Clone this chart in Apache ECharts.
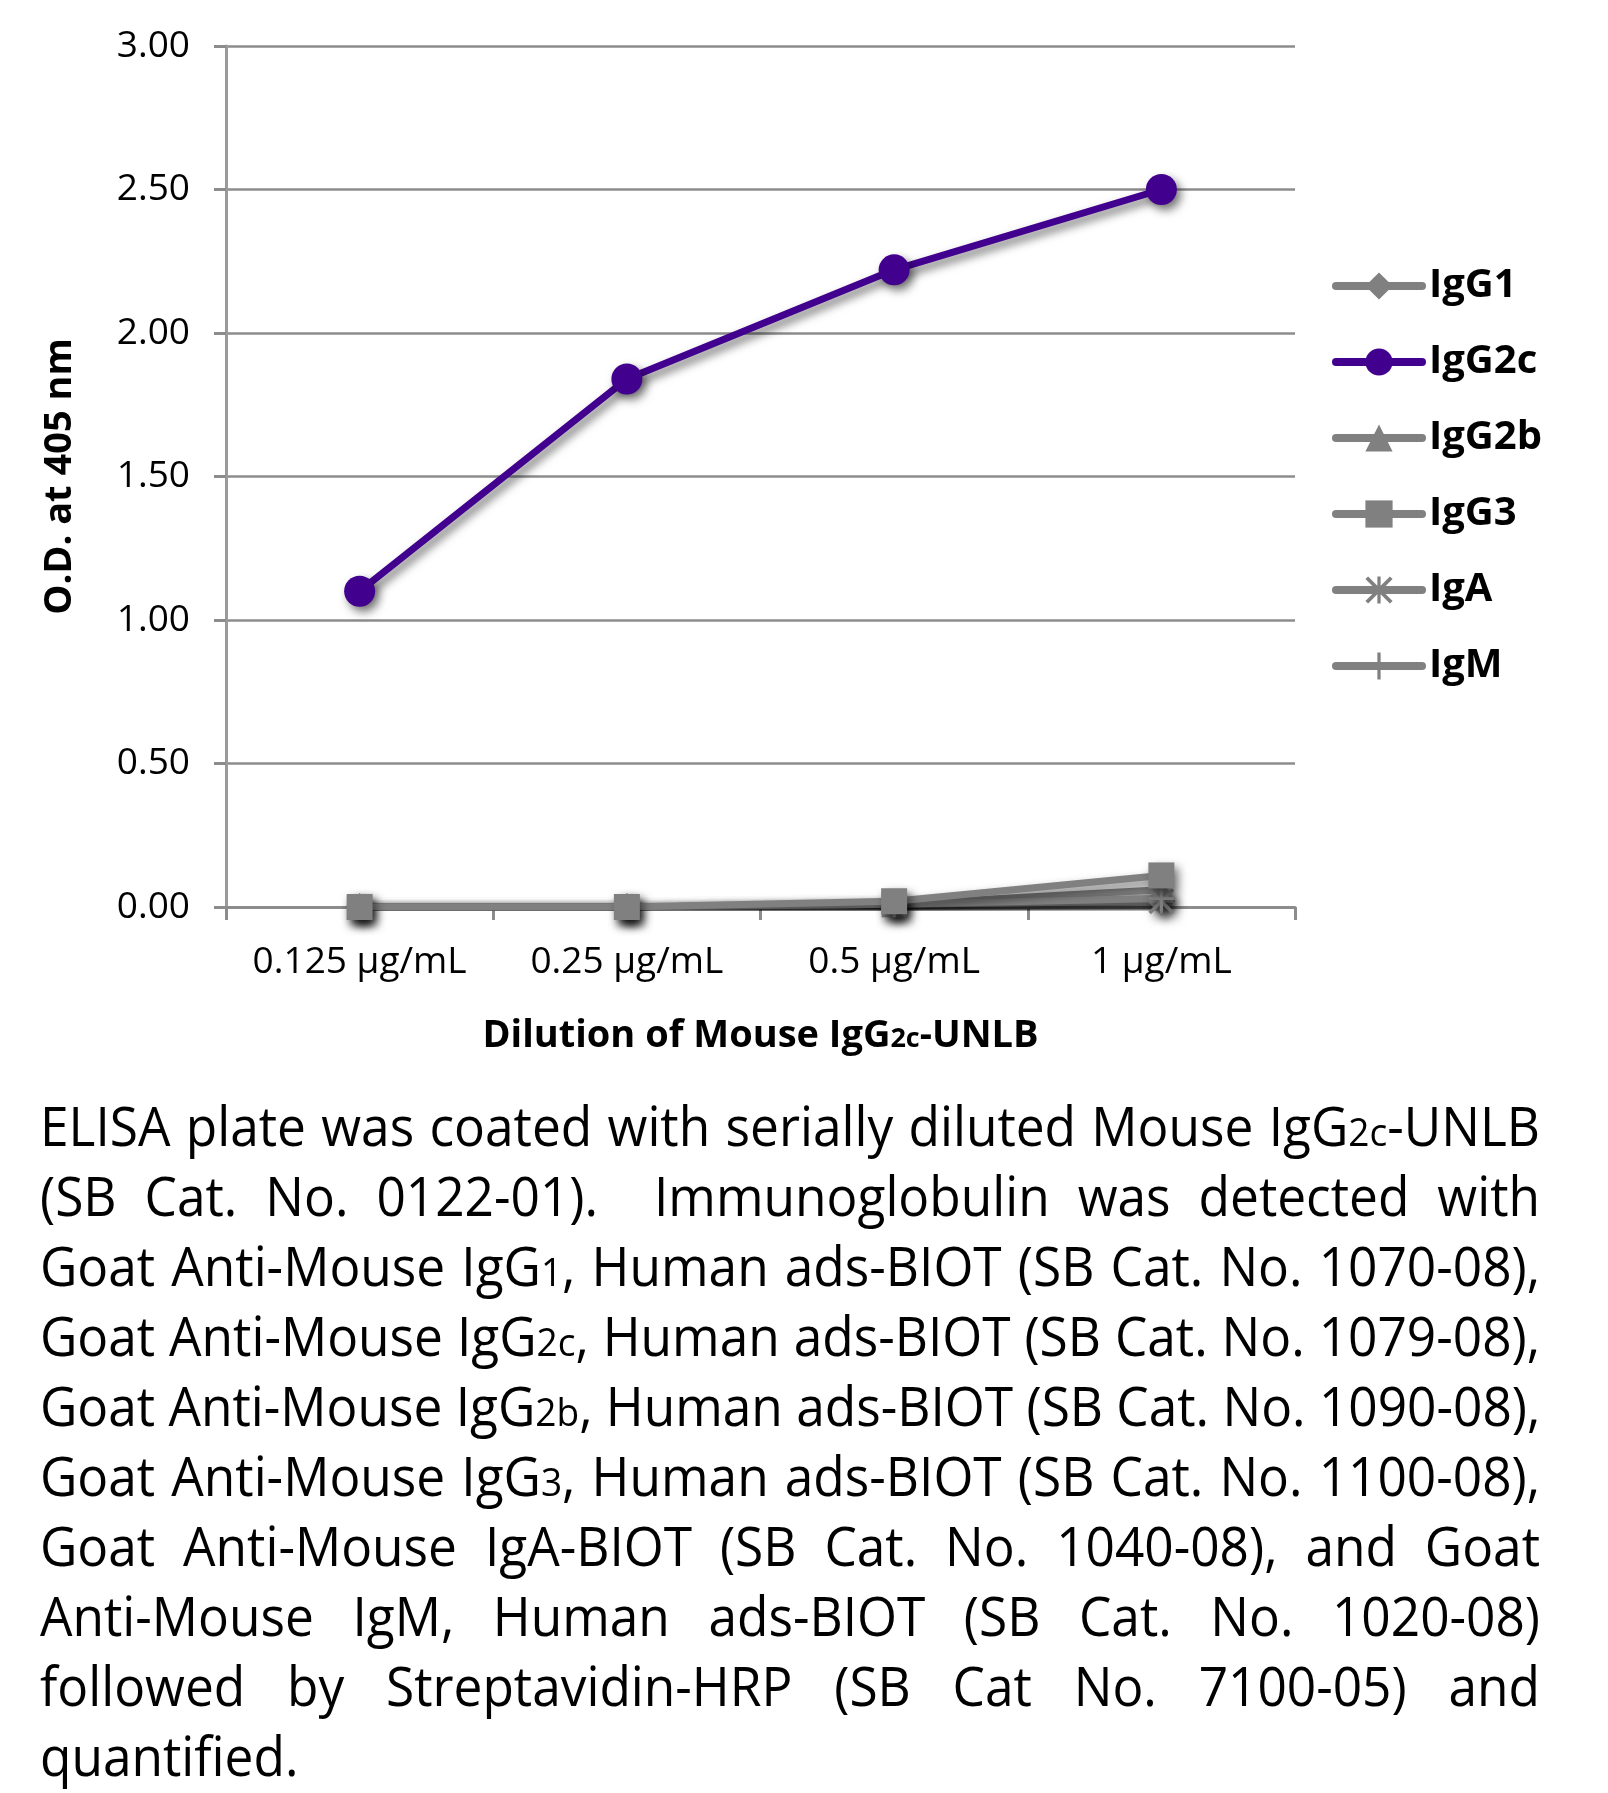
<!DOCTYPE html>
<html>
<head>
<meta charset="utf-8">
<script src="https://cdn.jsdelivr.net/npm/echarts@6/dist/echarts.min.js"></script>
<style>
html,body{margin:0;padding:0;background:#fff;width:1608px;height:1793px;overflow:hidden;}
#chart{position:absolute;left:0;top:0;width:1608px;height:1793px;}
#caption{position:absolute;left:40px;top:1090px;font-family:"Open Sans",sans-serif;font-size:54px;line-height:70px;color:#000;transform-origin:0 0;}
#caption .ln{white-space:nowrap;text-align:justify;text-align-last:justify;height:70px;line-height:70px;}
#caption .ln.last{text-align-last:left;}
#caption .s{font-size:0.72em;line-height:0;}
</style>
</head>
<body>
<div id="chart"></div>
<div id="caption">
<div class="ln">ELISA plate was coated with serially diluted Mouse IgG<span class="s">2c</span>-UNLB</div>
<div class="ln">(SB Cat. No. 0122-01).&nbsp; Immunoglobulin was detected with</div>
<div class="ln">Goat Anti-Mouse IgG<span class="s">1</span>, Human ads-BIOT (SB Cat. No. 1070-08),</div>
<div class="ln">Goat Anti-Mouse IgG<span class="s">2c</span>, Human ads-BIOT (SB Cat. No. 1079-08),</div>
<div class="ln">Goat Anti-Mouse IgG<span class="s">2b</span>, Human ads-BIOT (SB Cat. No. 1090-08),</div>
<div class="ln">Goat Anti-Mouse IgG<span class="s">3</span>, Human ads-BIOT (SB Cat. No. 1100-08),</div>
<div class="ln">Goat Anti-Mouse IgA-BIOT (SB Cat. No. 1040-08), and Goat</div>
<div class="ln">Anti-Mouse IgM, Human ads-BIOT (SB Cat. No. 1020-08)</div>
<div class="ln">followed by Streptavidin-HRP (SB Cat No. 7100-05) and</div>
<div class="ln last">quantified.</div>
</div>
<script>
// ---- data ----
var categories = ['0.125 µg/mL', '0.25 µg/mL', '0.5 µg/mL', '1 µg/mL'];
var yTicks = [0, 0.5, 1.0, 1.5, 2.0, 2.5, 3.0];
var IgG1  = [0.00, 0.00, 0.01, 0.02];
var IgG2c = [1.10, 1.84, 2.22, 2.50];
var IgG2b = [0.00, 0.00, 0.01, 0.06];
var IgG3  = [0.00, 0.00, 0.02, 0.11];
var IgA   = [0.00, 0.00, 0.01, 0.02];
var IgM   = [0.00, 0.00, 0.01, 0.03];

var GRAY = '#808080';
var PURPLE = '#42008f';
var ASTER = 'path://M0,1 L1,0 L10,9 L9,10 Z M9,0 L10,1 L1,10 L0,9 Z M4.4,0 L5.6,0 L5.6,10 L4.4,10 Z';
var PLUS = 'path://M4.4,0 L5.6,0 L5.6,10 L4.4,10 Z M0,4.4 L10,4.4 L10,5.6 L0,5.6 Z';
var shadow = {shadowColor:'rgba(0,0,0,0.55)', shadowBlur:10, shadowOffsetX:4, shadowOffsetY:5};

function mk(name, data, color, symbol, size, width, z) {
  return {
    name: name, type: 'line', data: data, symbol: symbol, symbolSize: size, z: z,
    showAllSymbol: true,
    lineStyle: Object.assign({color: color, width: width}, shadow),
    itemStyle: Object.assign({color: color}, shadow),
    emphasis: {disabled: true},
    animation: false
  };
}

var chart = echarts.init(document.getElementById('chart'));
chart.setOption({
  animation: false,
  backgroundColor: '#fff',
  grid: {left: 226, right: 313, top: 46, bottom: 886, containLabel: false},
  legend: {
    orient: 'vertical', left: 1332, top: 266, padding: 0,
    itemWidth: 86, itemHeight: 34, itemGap: 36,
    data: ['IgG1', 'IgG2c', 'IgG2b', 'IgG3', 'IgA', 'IgM'],
    textStyle: {fontFamily: 'Open Sans', fontWeight: 'bold', fontSize: 40, lineHeight: 34, color: '#000', padding: [0,0,0,2]},
    lineStyle: {width: 8, cap: 'round', shadowBlur: 0, shadowColor: 'transparent', shadowOffsetX: 0, shadowOffsetY: 0},
    itemStyle: {shadowBlur: 0, shadowColor: 'transparent', shadowOffsetX: 0, shadowOffsetY: 0},
    selectedMode: false
  },
  xAxis: {
    type: 'category', data: categories, boundaryGap: true,
    axisLine: {lineStyle: {color: '#8c8c8c', width: 3}},
    axisTick: {show: true, length: 13, lineStyle: {color: '#8c8c8c', width: 3}},
    axisLabel: {fontFamily: 'Open Sans', fontSize: 37, color: '#000', margin: 37, interval: 0},
    name: '{b|Dilution of Mouse IgG}{s|2c}{b|-UNLB}',
    nameLocation: 'middle', nameGap: 110,
    nameTextStyle: {rich: {
      b: {fontFamily: 'Open Sans', fontWeight: 'bold', fontSize: 38, color: '#000'},
      s: {fontFamily: 'Open Sans', fontWeight: 'bold', fontSize: 27, color: '#000', padding: [7,0,0,0]}
    }}
  },
  yAxis: {
    type: 'value', min: 0, max: 3, interval: 0.5,
    axisLine: {show: true, lineStyle: {color: '#9a9a9a', width: 3}},
    axisTick: {show: true, length: 12, lineStyle: {color: '#8c8c8c', width: 3}},
    splitLine: {lineStyle: {color: '#8c8c8c', width: 2.5}},
    axisLabel: {fontFamily: 'Open Sans', fontSize: 37, color: '#000', margin: 36,
      formatter: function (v) { return v.toFixed(2); }},
    name: 'O.D. at 405 nm', nameLocation: 'middle', nameGap: 147, nameRotate: 90,
    nameTextStyle: {fontFamily: 'Open Sans', fontWeight: 'bold', fontSize: 38, color: '#000'}
  },
  series: [
    mk('IgG1', IgG1, GRAY, 'diamond', 28, 7, 2),
    mk('IgG2b', IgG2b, GRAY, 'triangle', 26, 7, 2),
    mk('IgA', IgA, GRAY, ASTER, 26, 7, 2),
    mk('IgM', IgM, GRAY, PLUS, 26, 7, 2),
    mk('IgG3', IgG3, GRAY, 'rect', 26, 7, 3),
    mk('IgG2c', IgG2c, PURPLE, 'circle', 31, 7, 4)
  ]
});

// ---- caption fitting (uniform horizontal scale, justified lines) ----
function fitCaption() {
  var cap = document.getElementById('caption');
  cap.style.transform = 'none';
  var W = 1500;
  var lines = cap.querySelectorAll('.ln');
  var maxW = 0;
  lines.forEach(function (ln) {
    var sp = document.createElement('span');
    sp.innerHTML = ln.innerHTML;
    sp.style.whiteSpace = 'nowrap';
    sp.style.visibility = 'hidden';
    sp.style.position = 'absolute';
    sp.style.left = '0';
    sp.style.top = '0';
    cap.appendChild(sp);
    maxW = Math.max(maxW, sp.offsetWidth);
    cap.removeChild(sp);
  });
  var k = W / maxW;
  cap.style.width = (W / k) + 'px';
  cap.style.transform = 'scaleX(' + k + ')';
}
fitCaption();
if (document.fonts && document.fonts.ready) { document.fonts.ready.then(fitCaption); }
</script>
</body>
</html>
